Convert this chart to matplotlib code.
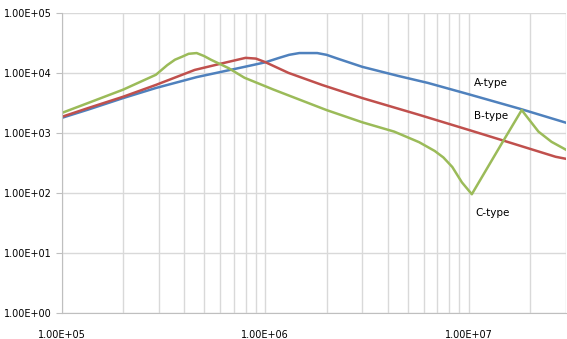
import matplotlib
matplotlib.use('Agg')
import matplotlib.pyplot as plt
from matplotlib.ticker import LogLocator, FuncFormatter, NullFormatter

# A-type (blue)
a_freq = [1e5, 1.35e5, 2e5, 2.9e5, 4.6e5, 7.9e5, 1.0e6, 1.17e6, 1.31e6, 1.47e6,
          1.8e6, 2.0e6, 2.3e6, 3.0e6, 4.5e6, 6.3e6, 1e7, 1.8e7, 3e7]
a_val = [1780, 2450, 3800, 5600, 8500, 12600, 15000, 17800, 20000, 21400,
         21400, 20000, 17000, 12600, 8900, 6800, 4400, 2500, 1480]

# B-type (red)
b_freq = [1e5, 1.35e5, 2e5, 2.9e5, 4.5e5, 6.5e5, 8.0e5, 9.0e5, 1.0e6, 1.3e6,
          1.9e6, 3.0e6, 5.7e6, 1e7, 1.45e7, 2.67e7, 3e7]
b_val = [1850, 2600, 4000, 6300, 11200, 15100, 17800, 17300, 15100, 10000,
         6300, 3800, 2000, 1120, 760, 400, 370]

# C-type (green)
c_freq = [1e5, 1.35e5, 2e5, 2.9e5, 3.3e5, 3.6e5, 3.9e5, 4.2e5, 4.6e5, 5.0e5,
          5.4e5, 6.6e5, 7.9e5, 1.1e6, 2e6, 3e6, 4.3e6, 5.7e6, 6.8e6, 7.5e6,
          8.3e6, 9.25e6, 1.035e7, 1.45e7, 1.82e7, 2.2e7, 2.55e7, 3e7]
c_val = [2150, 3160, 5250, 9300, 13500, 16600, 18600, 20800, 21400, 19100,
         16600, 12000, 8300, 5250, 2400, 1500, 1050, 700, 500, 390,
         270, 150, 95, 660, 2400, 1050, 710, 525]

labels = ['A-type', 'B-type', 'C-type']
label_pos = [(1.06e7, 6800), (1.06e7, 1900), (1.08e7, 46)]

fig = plt.figure(figsize=(5.67, 3.39), dpi=100)
ax = fig.add_axes([0.109, 0.077, 0.889, 0.885])

ax.plot(a_freq, a_val, color='#4F81BD', lw=1.8)
ax.plot(b_freq, b_val, color='#C0504D', lw=1.8)
ax.plot(c_freq, c_val, color='#9BBB59', lw=1.8)

ax.set_xscale('log')
ax.set_yscale('log')
ax.set_xlim(1e5, 3e7)
ax.set_ylim(1, 1e5)

fmt = FuncFormatter(lambda v, p: '%.2E' % v)
ax.xaxis.set_major_locator(LogLocator(base=10, numticks=10))
ax.xaxis.set_minor_locator(LogLocator(base=10, subs=range(2, 10), numticks=20))
ax.yaxis.set_major_locator(LogLocator(base=10, numticks=10))
ax.yaxis.set_minor_locator(LogLocator(base=10, subs=[], numticks=10))
ax.xaxis.set_major_formatter(fmt)
ax.yaxis.set_major_formatter(fmt)
ax.xaxis.set_minor_formatter(NullFormatter())

ax.grid(True, which='major', axis='both', color='#D9D9D9', lw=1)
ax.grid(True, which='minor', axis='x', color='#D9D9D9', lw=1)
ax.set_axisbelow(True)

for s in ['top', 'right']:
    ax.spines[s].set_visible(False)
for s in ['left', 'bottom']:
    ax.spines[s].set_color('#BFBFBF')

ax.tick_params(axis='y', which='major', length=4, color='#BFBFBF', pad=3, labelsize=7)
ax.tick_params(axis='x', which='major', length=0, pad=12, labelsize=7)
ax.tick_params(axis='x', which='minor', length=0)
ax.tick_params(axis='y', which='minor', length=0)

for t, (x, y) in zip(labels, label_pos):
    ax.text(x, y, t, fontsize=7.5, va='center', ha='left',
            bbox=dict(facecolor='white', edgecolor='none', pad=1.5))

fig.savefig('out.png', dpi=100)
